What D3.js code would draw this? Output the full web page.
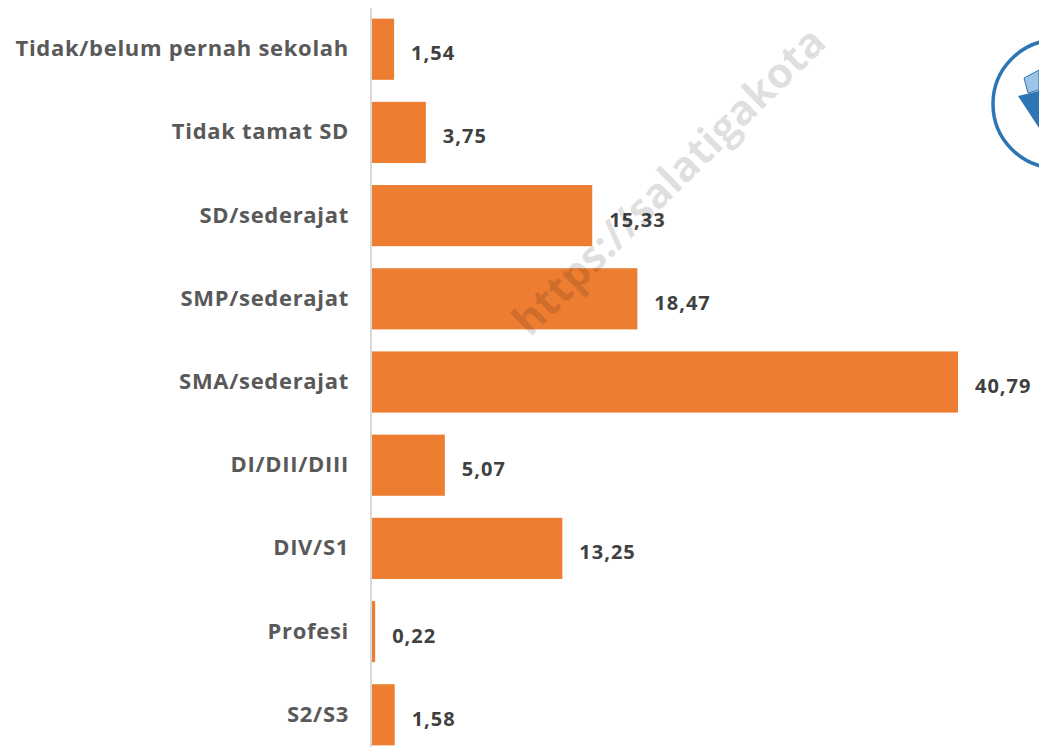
<!DOCTYPE html>
<html>
<head>
<meta charset="utf-8">
<style>
  body { margin: 0; background: #fff; overflow: hidden; }
  text { font-family: "Open Sans", Lato, sans-serif; font-weight: bold; }
</style>
</head>
<body>
<script src="https://d3js.org/d3.v7.min.js"></script>
<script>
// Pendidikan tertinggi yang ditamatkan (persen)
var categories = ["Tidak/belum pernah sekolah", "Tidak tamat SD", "SD/sederajat",
  "SMP/sederajat", "SMA/sederajat", "DI/DII/DIII", "DIV/S1", "Profesi", "S2/S3"];
var values = [1.54, 3.75, 15.33, 18.47, 40.79, 5.07, 13.25, 0.22, 1.58];
var valueLabels = ["1,54", "3,75", "15,33", "18,47", "40,79", "5,07", "13,25", "0,22", "1,58"];

var width = 1039, height = 747;
var axisX = 372;

var svg = d3.select("body").append("svg")
  .attr("width", width)
  .attr("height", height);

var y = d3.scaleBand()
  .domain(categories)
  .range([7, 757])
  .paddingInner(0.265)
  .paddingOuter(0.14);

var x = d3.scaleLinear()
  .domain([0, 40.79])
  .range([axisX, 958]);

// logo, mostly cut off at the right edge
var logo = svg.append("g");
logo.append("circle")
  .attr("cx", 1057).attr("cy", 104).attr("r", 64)
  .attr("fill", "none")
  .attr("stroke", "#2e75b6")
  .attr("stroke-width", 3.5);
logo.append("path")
  .attr("d", "M1018,96 L1039,91 L1039,128 Z")
  .attr("fill", "#2e75b6");
logo.append("path")
  .attr("d", "M1024,78 L1039,70 L1039,90 L1028,93 Z")
  .attr("fill", "#9dc3e6")
  .attr("stroke", "#2e75b6")
  .attr("stroke-width", 1);

svg.append("g").selectAll("rect")
  .data(values)
  .join("rect")
  .attr("x", axisX)
  .attr("y", function(d, i) { return y(categories[i]); })
  .attr("width", function(d) { return x(d) - axisX; })
  .attr("height", y.bandwidth())
  .attr("fill", "#ed7d31");

// category axis
var axis = svg.append("g")
  .attr("transform", "translate(" + (axisX - 1) + ",0)")
  .call(d3.axisLeft(y).tickSize(0).tickPadding(22));
axis.select(".domain")
  .attr("d", "M0,8V747")
  .attr("stroke", "#d9d9d9")
  .attr("stroke-width", 2);
axis.selectAll("text")
  .attr("font-size", 22)
  .attr("letter-spacing", 0.7)
  .attr("fill", "#595959")
  .attr("font-family", null);

svg.append("g").selectAll("text")
  .data(values)
  .join("text")
  .attr("x", function(d) { return x(d) + 17; })
  .attr("y", function(d, i) { return y(categories[i]) + y.bandwidth() / 2 + 4; })
  .attr("dy", "0.35em")
  .attr("font-size", 20)
  .attr("letter-spacing", 1)
  .attr("fill", "#404040")
  .text(function(d, i) { return valueLabels[i]; });

// watermark, drawn over the bars
svg.append("text")
  .attr("transform", "translate(530,338) rotate(-44.5)")
  .attr("font-size", 42)
  .attr("fill", "rgba(0,0,0,0.12)")
  .text("https://salatigakota");
</script>
</body>
</html>
